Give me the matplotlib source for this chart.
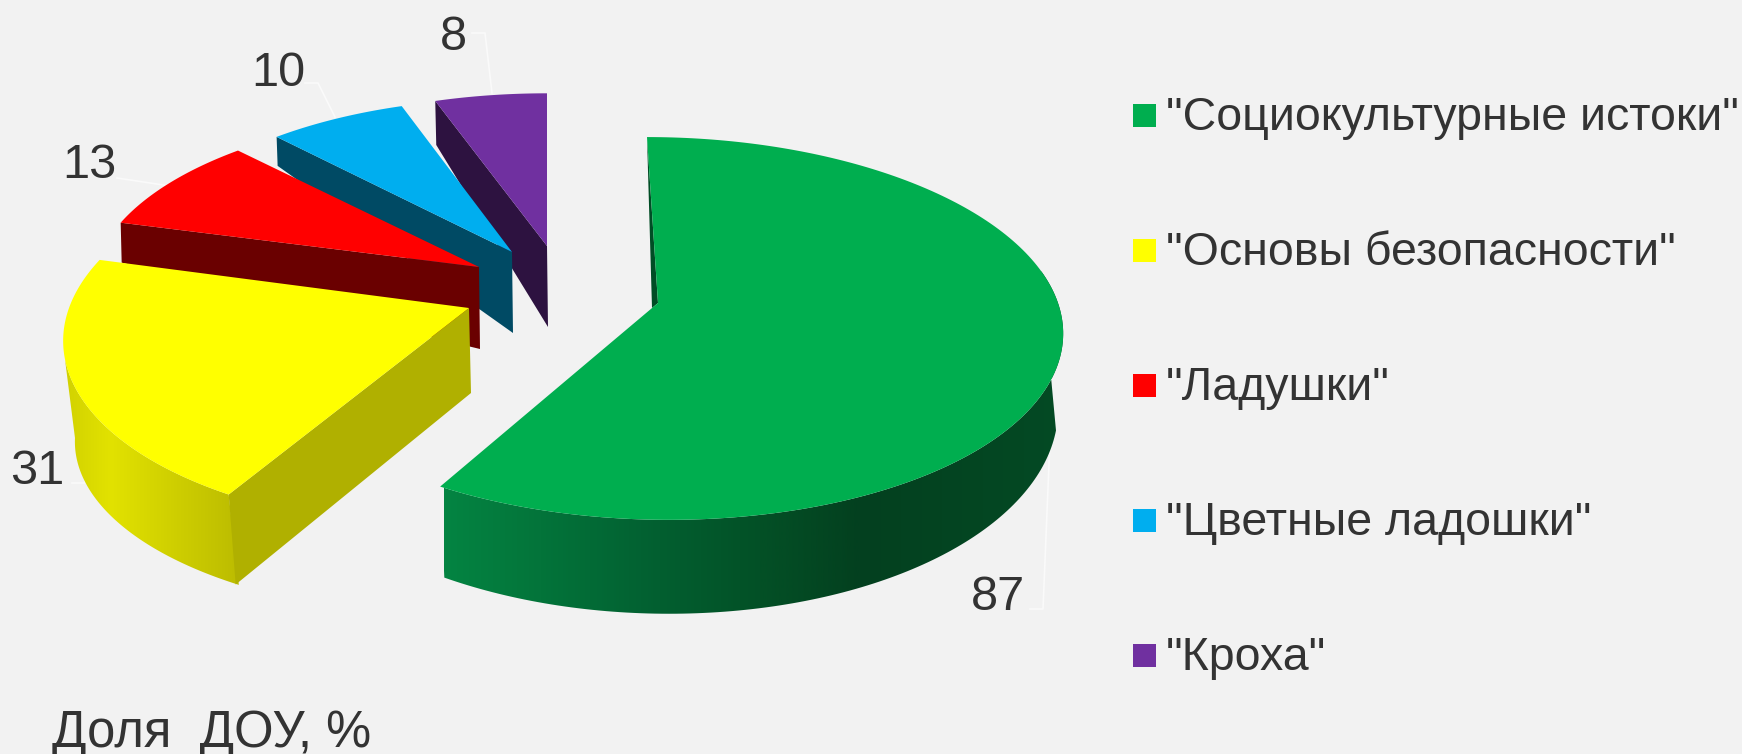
import numpy as np
import matplotlib
matplotlib.use('Agg')
from matplotlib import pyplot as plt
from matplotlib.patches import Polygon, Rectangle
from matplotlib.colors import LinearSegmentedColormap

# data
names = ['"Социокультурные истоки"', '"Основы безопасности"', '"Ладушки"', '"Цветные ладошки"', '"Кроха"']
values = [87, 31, 13, 10, 8]
title = 'Доля  ДОУ, %'

colors = ['#00ae4f', '#ffff00', '#ff0000', '#00aeef', '#7030a0']
wall_colors = ['#004d25', '#b0b000', '#6a0000', '#004a64', '#2d1240']

BG = '#f2f2f2'
TEXT = '#333333'
K = 0.133  # perspective of the disc

plt.rcParams['font.family'] = ['Liberation Sans', 'DejaVu Sans']

# slice angles, clockwise from 12 o'clock
total = float(sum(values))
edges = np.cumsum([0] + values) / total * 360.0

# per slice layout: apex x, apex y, rx, ry, skew
top_geo = [(658, 303, 400, 188, 11),
           (469, 308, 400, 191, -15),
           (479, 267, 384, 176, 0),
           (512, 252, 375, 174, 0),
           (547, 246, 380, 173, 0)]
# how far the cut face drops at the apex and at the rim
cut_drop = [None, (85, 90), (82, 40), (81, 29), (81, 44)]
draw_order = [0, 4, 3, 2, 1]


def rim(t, geo):
    t = np.radians(np.atleast_1d(t))
    ax_, ay_, rx, ry, sk = geo
    u = np.sin(t)
    v = -np.cos(t)
    s = 1 / (1 - K * v)
    return np.column_stack([ax_ + rx * u * s + sk * v, ay_ + ry * v * s])


def gradient_wall(ax, pts, xs, cols, z):
    poly = Polygon(pts, closed=True, fc='none', ec='none', zorder=z)
    ax.add_patch(poly)
    x0, x1 = min(xs), max(xs)
    stops = [(x - x0) / (x1 - x0) for x in xs]
    cmap = LinearSegmentedColormap.from_list('w', list(zip(stops, cols)))
    grad = np.linspace(0, 1, 512).reshape(1, -1)
    im = ax.imshow(grad, cmap=cmap, extent=(x0, x1, 754, 0), aspect='auto', zorder=z)
    im.set_clip_path(poly)


fig = plt.figure(figsize=(17.42, 7.54), dpi=100, facecolor=BG)
ax = fig.add_axes([0, 0, 1, 1])
ax.set_facecolor(BG)
ax.axis('off')

# back slices first, yellow last
for n, i in enumerate(draw_order):
    z = 2 + n
    geo = top_geo[i]
    a0, a1 = edges[i], edges[i + 1]
    apex = np.array(geo[:2], dtype=float)
    top = rim(np.linspace(a0, a1, 200), geo)

    if i == 0:
        # thin back face at 12 o'clock
        ax.add_patch(Polygon([rim(a0, geo)[0], (652, 308), apex], fc=wall_colors[0], ec='none', zorder=z))
        bottom = rim(np.linspace(210, 105, 120), (658, 375, 395, 207, 11))
        wall = np.vstack([rim(np.linspace(80, a1, 120), geo), bottom])
        gradient_wall(ax, wall, [444, 540, 640, 760, 860, 1065],
                      ['#048442', '#03743a', '#026232', '#035026', '#03401f', '#044a24'], z)
    elif i == 1:
        # outer wall, then the flat cut face
        bottom = rim(np.linspace(262, a0, 120), (470, 413, 390, 176, -11))
        wall = np.vstack([rim(np.linspace(a0, 255, 120), geo), bottom])
        gradient_wall(ax, wall, [60, 110, 170, 238],
                      ['#d0d000', '#e2e200', '#d0d000', '#bcbc00'], z)
        p = rim(a0, geo)[0]
        ax.add_patch(Polygon([apex, p, p + (7, cut_drop[i][1]), apex + (2, cut_drop[i][0])],
                             fc=wall_colors[i], ec='none', zorder=z))
    else:
        p = rim(a0, geo)[0]
        ax.add_patch(Polygon([apex, p, p + (1, cut_drop[i][1]), apex + (1, cut_drop[i][0])],
                             fc=wall_colors[i], ec='none', zorder=z))

    ax.add_patch(Polygon(np.vstack([apex, top]), fc=colors[i], ec='none', zorder=z))

# leader lines
leaders = [[(1050, 440), (1043, 609), (1030, 609)],
           [(85, 470), (85, 483), (72, 483)],
           [(117, 178), (170, 186)],
           [(305, 83), (318, 83), (335, 117)],
           [(472, 33), (485, 33), (492, 93)]]
for pts in leaders:
    xs, ys = zip(*pts)
    ax.plot(xs, ys, color='#fafafa', lw=1.2, zorder=1)

# value labels
label_pos = [(998, 592), (37, 467), (89, 161), (278, 69), (453, 33)]
for val, (x, y) in zip(values, label_pos):
    ax.text(x, y, str(val), fontsize=35, color=TEXT, ha='center', va='center_baseline', zorder=20)

# legend
for i, name in enumerate(names):
    y = 104 + i * 135
    ax.add_patch(Rectangle((1133, y), 23, 23, fc=colors[i], ec='none', zorder=20))
    ax.text(1166, y + 26, name, fontsize=33.5, color=TEXT, ha='left', va='baseline', zorder=20)

# the reference cuts the descender of this line at the bottom edge too
ax.text(52, 747, title, fontsize=36.5, color=TEXT, ha='left', va='baseline', zorder=20)

ax.set_xlim(0, 1742)
ax.set_ylim(754, 0)
fig.savefig('out.png', dpi=100, facecolor=BG)
